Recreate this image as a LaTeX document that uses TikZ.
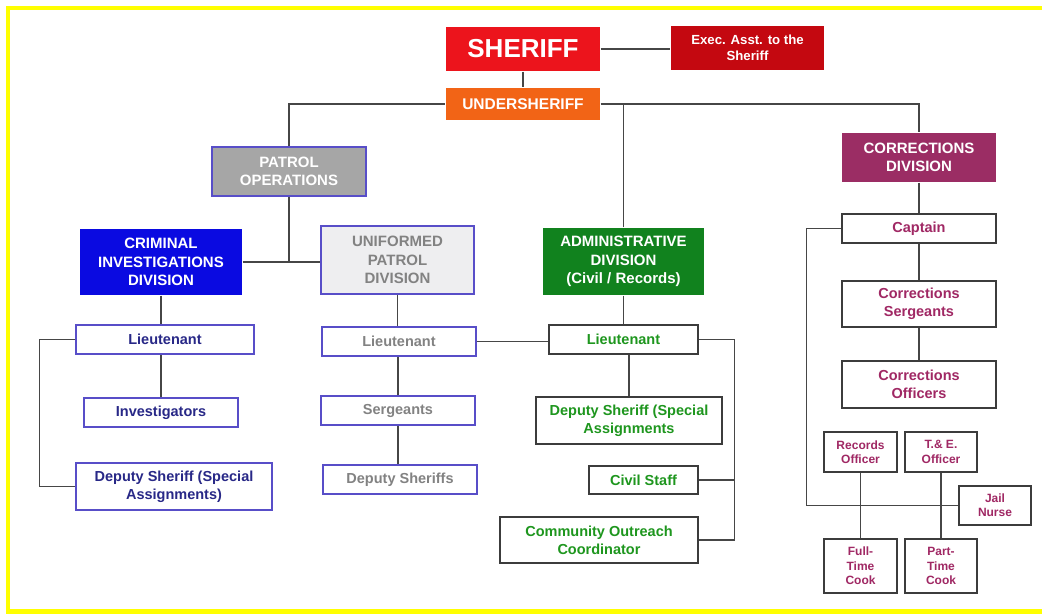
\documentclass[tikz,border=0pt]{standalone}
\usepackage{fontspec}
\setmainfont{Liberation Sans}
\usepackage{tikz}
\usetikzlibrary{positioning}

\definecolor{sheriffred}{RGB}{236,20,28}
\definecolor{underorange}{RGB}{242,100,22}
\definecolor{execred}{RGB}{196,8,16}
\definecolor{patrolgray}{RGB}{166,166,166}
\definecolor{cidblue}{RGB}{10,10,225}
\definecolor{updfill}{RGB}{238,238,240}
\definecolor{admgreen}{RGB}{17,130,30}
\definecolor{corpurple}{RGB}{155,45,100}
\definecolor{boxblue}{RGB}{88,78,200}
\definecolor{boxdark}{RGB}{60,60,60}
\definecolor{linegray}{RGB}{70,70,70}
\definecolor{cidtext}{RGB}{40,40,135}
\definecolor{updtext}{RGB}{130,130,130}
\definecolor{admtext}{RGB}{30,150,30}
\definecolor{cortext}{RGB}{160,40,100}
\definecolor{framey}{RGB}{255,255,0}

\begin{document}
\begin{tikzpicture}[x=1pt, y=-1pt,
  every node/.style={inner sep=0pt, align=center, line width=1.4pt, font=\bfseries\fontsize{14.5}{18.3}\selectfont},
  sz/.style 2 args={minimum width=#1pt, minimum height=#2pt},
  head/.style={fill=#1, text=white, font=\bfseries\fontsize{15}{18.3}\selectfont},
  cidbox/.style={draw=boxblue, fill=white, text=cidtext},
  updbox/.style={draw=boxblue, fill=white, text=updtext},
  admbox/.style={draw=boxdark, fill=white, text=admtext},
  corbox/.style={draw=boxdark, fill=white, text=cortext},
  small/.style={corbox, font=\bfseries\fontsize{12}{14.3}\selectfont},
  conn/.style={draw=linegray, line width=1.3pt}]

  \fill[white] (0,0) rectangle (1042,614);
  \useasboundingbox (0,0) rectangle (1042,614);
  \draw[framey, line width=4.5pt] (8,8) rectangle (1046,611.5);

  \node [head=sheriffred, sz={154}{44}, font=\bfseries\fontsize{26}{30}\selectfont] (S) at (523,49) {SHERIFF};
  \node [head=underorange, sz={154}{32}, font=\bfseries\fontsize{15.5}{18}\selectfont] (U) at (523,104) {UNDERSHERIFF};
  \node [head=execred, sz={153}{44}, font=\bfseries\fontsize{13.2}{16}\selectfont] (EA) at (747.5,48) {Exec. Asst. to the\\Sheriff};

  \node [head=patrolgray, draw=boxblue, sz={154}{49}] (PO) at (289,171.5) {PATROL\\OPERATIONS};
  \node [head=cidblue, sz={162}{66}] (CID) at (161,262) {CRIMINAL\\INVESTIGATIONS\\DIVISION};
  \node [head=updfill, draw=boxblue, text=updtext, sz={153}{68}] (UPD) at (397.5,260) {UNIFORMED\\PATROL\\DIVISION};
  \node [head=admgreen, sz={161}{67}] (AD) at (623.5,261.5) {ADMINISTRATIVE\\DIVISION\\(Civil / Records)};
  \node [head=corpurple, sz={154}{49}] (CD) at (919,157.5) {CORRECTIONS\\DIVISION};

  \node [cidbox, sz={178}{29}] (L1) at (165,339.5) {Lieutenant};
  \node [cidbox, sz={154}{29}] (INV) at (161,412.5) {Investigators};
  \node [cidbox, sz={196}{47}] (DS1) at (174,486.5) {Deputy Sheriff (Special\\Assignments)};

  \node [updbox, sz={154}{29}] (L2) at (399,341.5) {Lieutenant};
  \node [updbox, sz={154}{29}] (SG) at (398,410.5) {Sergeants};
  \node [updbox, sz={154}{29}] (DSS) at (400,479.5) {Deputy Sheriffs};

  \node [admbox, sz={149}{29}] (L3) at (623.5,339.5) {Lieutenant};
  \node [admbox, sz={186}{47}] (DS2) at (629,420.5) {Deputy Sheriff (Special\\Assignments};
  \node [admbox, sz={109}{28}] (CS) at (643.5,480) {Civil Staff};
  \node [admbox, sz={198}{46}] (CO) at (599,540) {Community Outreach\\Coordinator};

  \node [corbox, sz={154}{29}] (CP) at (919,228.5) {Captain};
  \node [corbox, sz={154}{46}] (CSG) at (919,304) {Corrections\\Sergeants};
  \node [corbox, sz={154}{47}] (COF) at (919,384.5) {Corrections\\Officers};
  \node [small, sz={73}{40}] (RO) at (860.5,452) {Records\\Officer};
  \node [small, sz={72}{40}] (TE) at (941,452) {T.\& E.\\Officer};
  \node [small, sz={72}{39}] (JN) at (995,505.5) {Jail\\Nurse};
  \node [small, sz={73}{54}] (FC) at (860.5,566) {Full-\\Time\\Cook};
  \node [small, sz={72}{54}] (PC) at (941,566) {Part-\\Time\\Cook};

  \draw [conn] (S.south) -- (U.north);
  \draw [conn] (S.east) -- (S.east -| EA.west);
  \draw [conn] (PO.north) |- (U.west);
  \draw [conn] (U.east) -| (CD.north);
  \draw [conn] (AD.north) |- (U.east);

  \draw [conn] (PO.south) -- (PO.south |- CID.east);
  \draw [conn] (CID.east) -- (CID.east -| UPD.west);
  \draw [conn] (CID.south) -- (CID.south |- L1.north);
  \draw [conn] (INV.north) -- (INV.north |- L1.south);
  \draw [conn] (L1.west) -- ++(-36,0) |- (DS1.west);

  \draw [conn] (UPD.south) -- (UPD.south |- L2.north);
  \draw [conn] (SG.north) -- (SG.north |- L2.south);
  \draw [conn] (SG.south) -- (SG.south |- DSS.north);
  \draw [conn] (L2.east) -- (L2.east -| L3.west);

  \draw [conn] (AD.south) -- (AD.south |- L3.north);
  \draw [conn] (DS2.north) -- (DS2.north |- L3.south);
  \draw [conn] (L3.east) -- ++(36,0) |- (CO.east);
  \draw [conn] (CS.east) -- ++(36,0);

  \draw [conn] (CD.south) -- (CP.north);
  \draw [conn] (CP.south) -- (CSG.north);
  \draw [conn] (CSG.south) -- (COF.north);
  \draw [conn] (CP.west) -- ++(-35,0) |- (JN.west);
  \draw [conn] (RO.south) -- (FC.north);
  \draw [conn] (TE.south) -- (PC.north);

\end{tikzpicture}
\end{document}
